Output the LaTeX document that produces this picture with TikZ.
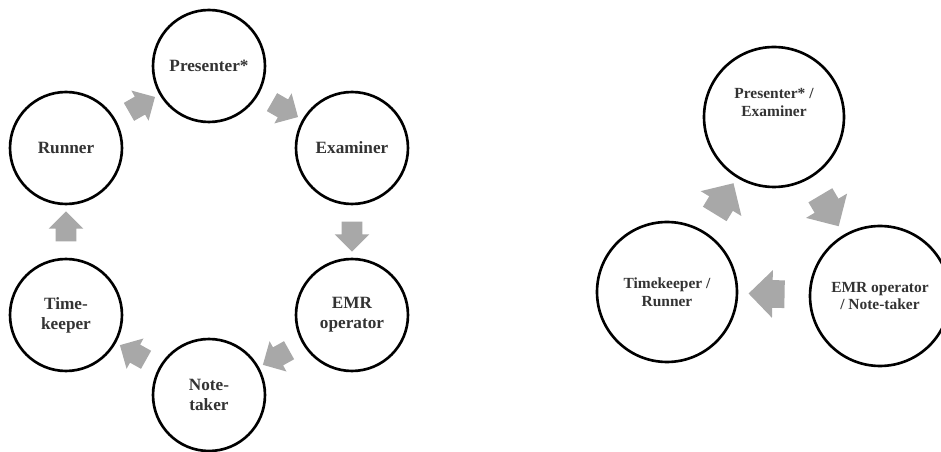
\documentclass[tikz,border=0pt]{standalone}
\usepackage{fontspec}
\setmainfont{Liberation Serif}
\usetikzlibrary{shapes.arrows}

\tikzset{
	role/.style={circle, draw=black, line width=1.5pt, minimum size=2.24cm, inner sep=0pt, align=center, text=black!80, font=\bfseries\fontsize{9.8}{11.4}\selectfont},
	bigrole/.style={role, minimum size=2.8cm, font=\bfseries\fontsize{8.8}{10.2}\selectfont},
	flow/.style={single arrow, fill=black!34, draw=none, inner xsep=0pt, inner ysep=0.2cm, minimum height=0.6cm, single arrow head extend=0.14cm, sloped, allow upside down},
	bigflow/.style={flow, inner ysep=0.27cm, minimum height=0.72cm, single arrow head extend=0.2cm},
}

\begin{document}
\begin{tikzpicture}[x=0.02cm, y=-0.02cm]
	\useasboundingbox (0,0) rectangle (941,452);
	% six roles
	\node[role] (pres) at (209,66) {Presenter*};
	\node[role] (exam) at (352,148) {Examiner};
	\node[role] (emr) at (352,315) {EMR\\operator};
	\node[role] (note) at (209,395) {Note-\\taker};
	\node[role] (time) at (66,315) {Time-\\keeper};
	\node[role] (run) at (66,148) {Runner};
	\path (pres) -- (exam) node[midway, flow] {};
	\path (exam) -- (emr) node[midway, flow] {};
	\path (emr) -- (note) node[midway, flow] {};
	\path (note) -- (time) node[midway, flow] {};
	\path (time) -- (run) node[midway, flow] {};
	\path (run) -- (pres) node[midway, flow] {};
	% three roles
	\node[bigrole] (presexam) at (774,117) {Presenter* /\\Examiner\\[6pt]};
	\node[bigrole] (emrnote) at (880,296) {EMR operator\\/ Note-taker};
	\node[bigrole] (timerun) at (667,292) {Timekeeper /\\Runner};
	\path (presexam) -- (emrnote) node[pos=0.47, bigflow] {};
	\path (emrnote) -- (timerun) node[midway, bigflow] {};
	\path (timerun) -- (presexam) node[midway, bigflow] {};
\end{tikzpicture}
\end{document}
